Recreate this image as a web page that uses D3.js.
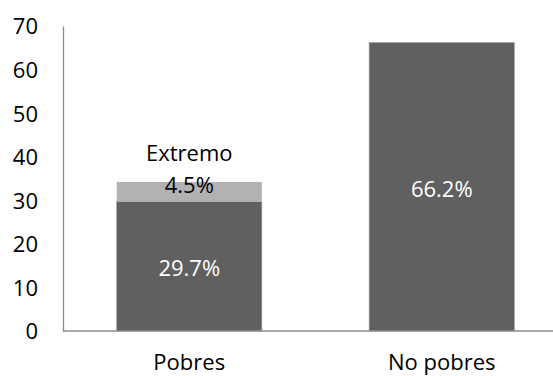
<!DOCTYPE html>
<html>
<head>
<meta charset="utf-8">
<script src="https://cdn.jsdelivr.net/npm/d3@7"></script>
<style>
  html, body { margin: 0; padding: 0; background: #fff; overflow: hidden; }
  svg { display: block; font-family: "Open Sans", sans-serif; }
</style>
</head>
<body>
<svg id="chart" width="553" height="376"></svg>
<script>
// Population shares by poverty status (%)
const categories = ["Pobres", "No pobres"];
const baseValues = [29.7, 66.2];     // dark segment
const extremeValues = [4.5, 0];      // light segment stacked on top
const baseLabels = ["29.7%", "66.2%"];
const extremeLabels = ["4.5%", null];
const extremeTitle = "Extremo";
const yTicks = [0, 10, 20, 30, 40, 50, 60, 70];

const svg = d3.select("#chart");
const margin = { left: 63, right: -15, top: 26, bottom: 45 };
const W = 553, H = 376;
const fontSize = 22;

const x = d3.scaleBand()
  .domain(categories)
  .range([margin.left, W - margin.right])
  .paddingInner(0.425)
  .paddingOuter(0.2125);

const y = d3.scaleLinear().domain([0, 70]).range([H - margin.bottom, margin.top]);

const axisColor = "#8c8c8c";

// y axis
const yAxis = svg.append("g")
  .attr("transform", `translate(${margin.left},0)`)
  .call(d3.axisLeft(y).tickValues(yTicks).tickSize(0).tickPadding(25));
yAxis.select(".domain").attr("stroke", axisColor).attr("stroke-width", 1.3);
yAxis.selectAll("text").attr("font-size", fontSize).attr("fill", "#000")
  .attr("font-family", "'Open Sans', sans-serif").attr("dy", "0.36em");

// bars
const g = svg.append("g");
categories.forEach((c, i) => {
  g.append("rect")
    .attr("x", x(c)).attr("width", x.bandwidth())
    .attr("y", y(baseValues[i])).attr("height", y(0) - y(baseValues[i]))
    .attr("fill", "#606060").attr("stroke", "#9a9a9a").attr("stroke-width", 0.6);
  if (extremeValues[i] > 0) {
    const top = baseValues[i] + extremeValues[i];
    g.append("rect")
      .attr("x", x(c)).attr("width", x.bandwidth())
      .attr("y", y(top)).attr("height", y(baseValues[i]) - y(top))
      .attr("fill", "#b2b2b2");
  }
});

// x axis baseline
svg.append("line")
  .attr("x1", margin.left).attr("x2", W)
  .attr("y1", y(0)).attr("y2", y(0))
  .attr("stroke", axisColor).attr("stroke-width", 1.3);

// category labels
svg.selectAll(".cat").data(categories).enter().append("text")
  .attr("x", d => x(d) + x.bandwidth() / 2)
  .attr("y", H - 6)
  .attr("text-anchor", "middle")
  .attr("font-size", fontSize).attr("fill", "#000")
  .text(d => d);

// value labels inside dark bars
categories.forEach((c, i) => {
  svg.append("text")
    .attr("x", x(c) + x.bandwidth() / 2)
    .attr("y", (y(0) + y(baseValues[i])) / 2 + 2)
    .attr("dy", "0.36em")
    .attr("text-anchor", "middle")
    .attr("font-size", fontSize).attr("fill", "#fff")
    .text(baseLabels[i]);
  if (extremeLabels[i]) {
    const top = baseValues[i] + extremeValues[i];
    svg.append("text")
      .attr("x", x(c) + x.bandwidth() / 2)
      .attr("y", y(top) + 3)
      .attr("dy", "0.36em")
      .attr("text-anchor", "middle")
      .attr("font-size", fontSize).attr("fill", "#000")
      .text(extremeLabels[i]);
    svg.append("text")
      .attr("x", x(c) + x.bandwidth() / 2)
      .attr("y", y(top) - 29)
      .attr("dy", "0.36em")
      .attr("text-anchor", "middle")
      .attr("font-size", fontSize).attr("fill", "#000")
      .text(extremeTitle);
  }
});
</script>
</body>
</html>
